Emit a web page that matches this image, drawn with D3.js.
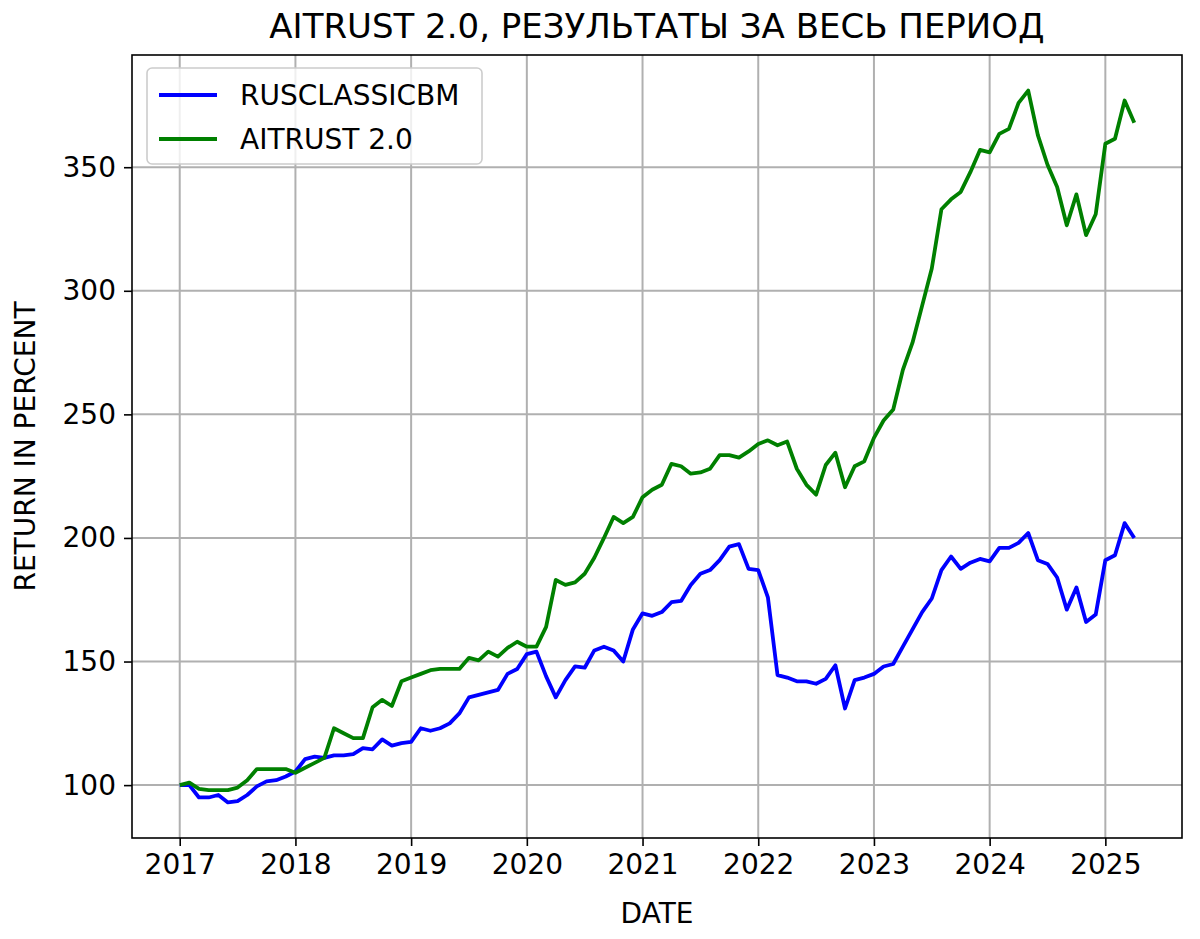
<!DOCTYPE html>
<html><head><meta charset="utf-8">
<script src="https://cdn.jsdelivr.net/npm/d3@7"></script>
<style>body{margin:0;background:#fff}text{font-family:"DejaVu Sans",sans-serif}</style>
</head><body><svg id="c" width="1200" height="939"></svg>
<script>
var startYear = 2017;
var yearTicks = [2017,2018,2019,2020,2021,2022,2023,2024,2025];
var yTicks = [100,150,200,250,300,350];
var benchmark = [100,100,95,95,96,93,93.5,96,99.5,101.5,102,103.5,
  105.5,110.5,111.5,111,112,112,112.5,115,114.5,118.5,116,117,
  117.5,123,122,123,125,129,135.5,136.5,137.5,138.5,145,147,
  153,154,144,135.5,142.5,148,147.5,154.5,156,154.5,150,163,
  169.5,168.5,170,174,174.5,181,185.5,187,191,196.5,197.5,187.5,
  187,176,144.5,143.5,142,142,141,143,148.5,131,142.5,143.5,
  145,148,149,156,163,170,175.5,187,192.5,187.5,190,191.5,
  190.5,196,196,198,202,191,189.5,184,171,180,166,169,
  191,193,206,200];
var aitrust = [100,101,98.5,98,98,98,99,102,106.5,106.5,106.5,106.5,
  105,107,109,111,123,121,119,119,131.5,134.5,132,142,
  143.5,145,146.5,147,147,147,151.5,150.5,154,152,155.5,158,
  156,156,164,183,181,182,185.5,192,200,208.5,206,208.5,
  216.5,219.5,221.5,230,229,226,226.5,228,233.5,233.5,232.5,235,
  238,239.5,237.5,239,228,221.5,217.5,229.5,234.5,220.5,229,231,
  240.5,247.5,252,268,279,294,309,333,337,340,348,357,
  356,363.5,365.5,376,381,363,351,342,326.5,339,322.5,331,
  359.5,361.5,377,368];
var series = [
  {name:"RUSCLASSICBM", values:benchmark, color:"#0000ff"},
  {name:"AITRUST 2.0", values:aitrust, color:"#008000"}
];

var L=132,R=1182,T=55,B=838;
var svg=d3.select("#c");
var n=benchmark.length, last=startYear+(n-1)/12;
var mx=(last-startYear)*0.05;
var x=d3.scaleLinear().domain([startYear-mx,last+mx]).range([L,R]);
var all=benchmark.concat(aitrust), lo=d3.min(all), hi=d3.max(all), my=(hi-lo)*0.05;
var y=d3.scaleLinear().domain([lo-my,hi+my]).range([B,T]);

var g=svg.append("g");
g.selectAll(".vx").data(yearTicks).enter().append("line")
  .attr("x1",d=>x(d)).attr("x2",d=>x(d)).attr("y1",T).attr("y2",B)
  .attr("stroke","#b0b0b0").attr("stroke-width",2);
g.selectAll(".hy").data(yTicks).enter().append("line")
  .attr("y1",d=>y(d)).attr("y2",d=>y(d)).attr("x1",L).attr("x2",R)
  .attr("stroke","#b0b0b0").attr("stroke-width",2);

var line=d3.line().x((d,i)=>x(startYear+i/12)).y(d=>y(d));
series.forEach(function(s){
  svg.append("path").datum(s.values).attr("d",line).attr("fill","none")
    .attr("stroke",s.color).attr("stroke-width",3.8).attr("stroke-linejoin","round");
});

svg.append("rect").attr("x",L).attr("y",T).attr("width",R-L).attr("height",B-T)
  .attr("fill","none").attr("stroke","#000").attr("stroke-width",1.6);

var xa=svg.append("g").attr("transform","translate(0,"+B+")")
  .call(d3.axisBottom(x).tickValues(yearTicks).tickFormat(d3.format("d")).tickSize(8).tickPadding(8));
var ya=svg.append("g").attr("transform","translate("+L+",0)")
  .call(d3.axisLeft(y).tickValues(yTicks).tickSize(8).tickPadding(8));
[xa,ya].forEach(function(a){
  a.select(".domain").remove();
  a.selectAll("line").attr("stroke","#000").attr("stroke-width",1.6);
  a.selectAll("text").attr("font-size",28).attr("fill","#000").style("font-family","DejaVu Sans");
});

svg.append("text").attr("x",(L+R)/2).attr("y",38).attr("text-anchor","middle")
  .attr("font-size",34).text("AITRUST 2.0, РЕЗУЛЬТАТЫ ЗА ВЕСЬ ПЕРИОД");
svg.append("text").attr("x",(L+R)/2).attr("y",923).attr("text-anchor","middle")
  .attr("font-size",28).text("DATE");
svg.append("text").attr("transform","translate(35,"+((T+B)/2)+") rotate(-90)")
  .attr("text-anchor","middle").attr("font-size",28).text("RETURN IN PERCENT");

var lg=svg.append("g").attr("transform","translate(147,68)");
lg.append("rect").attr("width",335).attr("height",96).attr("rx",5)
  .attr("fill","#fff").attr("fill-opacity",0.8).attr("stroke","#ccc").attr("stroke-width",1.6);
series.forEach(function(s,i){
  var yy=27+i*44;
  lg.append("line").attr("x1",12).attr("x2",70).attr("y1",yy).attr("y2",yy)
    .attr("stroke",s.color).attr("stroke-width",3.8);
  lg.append("text").attr("x",93).attr("y",yy+10).attr("font-size",28).text(s.name);
});
</script></body></html>
